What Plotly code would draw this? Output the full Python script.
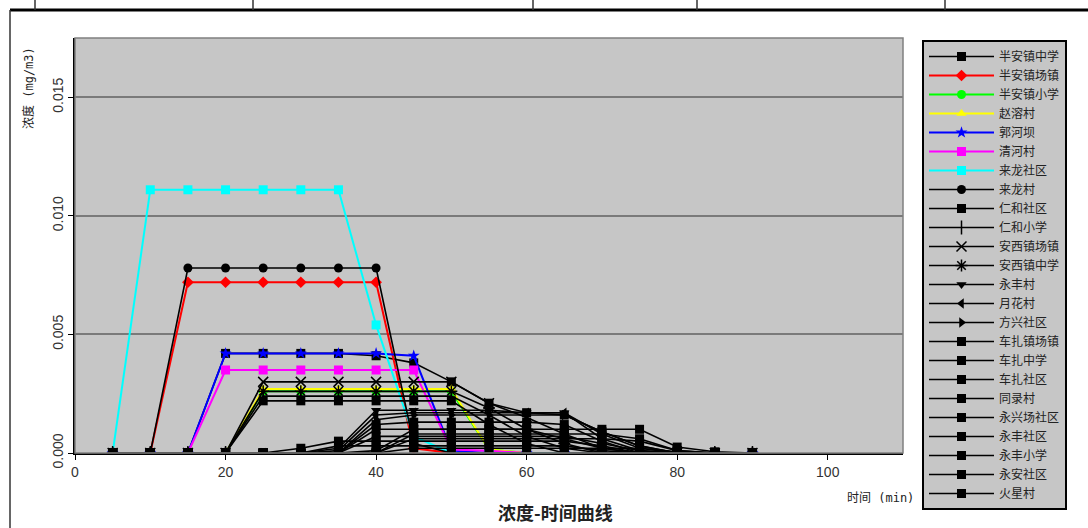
import plotly.graph_objects as go

times = [5, 10, 15, 20, 25, 30, 35, 40, 45, 50, 55, 60, 65, 70, 75, 80, 85, 90]

names = ["半安镇中学", "半安镇场镇", "半安镇小学", "赵溶村", "郭河坝", "清河村", "来龙社区",
         "来龙村", "仁和社区", "仁和小学", "安西镇场镇", "安西镇中学", "永丰村", "月花村",
         "方兴社区", "车扎镇场镇", "车扎中学", "车扎社区", "同录村", "永兴场社区", "永丰社区",
         "永丰小学", "永安社区", "火星村"]

# concentrations in mg/m3 (x 1e-3)
s01 = [0, 0, 0, 4.2, 4.2, 4.2, 4.2, 4.1, 3.8, 3.0, 2.1, 1.7, 1.6, 0.9, 0.3, 0, 0, 0]
s02 = [0, 0, 7.2, 7.2, 7.2, 7.2, 7.2, 7.2, 0.2, 0, 0, 0, 0, 0, 0, 0, 0, 0]
s03 = [0, 0, 0, 0, 2.6, 2.6, 2.6, 2.6, 2.6, 2.6, 0.15, 0, 0, 0, 0, 0, 0, 0]
s04 = [0, 0, 0, 0, 2.7, 2.7, 2.7, 2.7, 2.7, 2.7, 0.15, 0, 0, 0, 0, 0, 0, 0]
s05 = [0, 0, 0, 4.2, 4.2, 4.2, 4.2, 4.2, 4.1, 0.1, 0, 0, 0, 0, 0, 0, 0, 0]
s06 = [0, 0, 0, 3.5, 3.5, 3.5, 3.5, 3.5, 3.5, 0.15, 0.1, 0, 0, 0, 0, 0, 0, 0]
s07 = [0, 11.1, 11.1, 11.1, 11.1, 11.1, 11.1, 5.4, 0.7, 0, 0, 0, 0, 0, 0, 0, 0, 0]
s08 = [0, 0, 7.8, 7.8, 7.8, 7.8, 7.8, 7.8, 0.4, 0, 0, 0, 0, 0, 0, 0, 0, 0]
s09 = [0, 0, 0, 0, 2.2, 2.2, 2.2, 2.2, 2.2, 2.2, 1.2, 0.4, 0, 0, 0, 0, 0, 0]
s10 = [0, 0, 0, 0, 2.4, 2.4, 2.4, 2.4, 2.4, 2.4, 1.6, 0.7, 0.2, 0, 0, 0, 0, 0]
s11 = [0, 0, 0, 0, 3.0, 3.0, 3.0, 3.0, 3.0, 3.0, 2.1, 1.5, 0.8, 0.2, 0, 0, 0, 0]
s12 = [0, 0, 0, 0, 2.6, 2.6, 2.6, 2.6, 2.6, 2.6, 1.9, 1.0, 0.4, 0, 0, 0, 0, 0]
s13 = [0, 0, 0, 0, 0, 0, 0.2, 1.8, 1.8, 1.8, 1.8, 1.7, 1.7, 0.6, 0.1, 0, 0, 0]
s14 = [0, 0, 0, 0, 0, 0, 0.1, 1.6, 1.7, 1.7, 1.7, 1.7, 1.7, 0.8, 0.2, 0, 0, 0]
s15 = [0, 0, 0, 0, 0, 0, 0, 1.4, 1.6, 1.6, 1.6, 1.6, 1.6, 0.9, 0.3, 0, 0, 0]
s16 = [0, 0, 0, 0, 0, 0, 0, 0.1, 1.0, 1.0, 1.0, 1.0, 1.0, 1.0, 1.0, 0.25, 0.05, 0]
s17 = [0, 0, 0, 0, 0, 0, 0, 0, 0.8, 0.8, 0.8, 0.8, 0.8, 0.8, 0.6, 0.1, 0, 0]
s18 = [0, 0, 0, 0, 0, 0.2, 0.5, 0.5, 0.5, 0.5, 0.5, 0.5, 0.5, 0.3, 0, 0, 0, 0]
s19 = [0, 0, 0, 0, 0, 0, 0.3, 0.3, 0.3, 0.3, 0.3, 0.3, 0.3, 0.1, 0, 0, 0, 0]
s20 = [0, 0, 0, 0, 0, 0, 0, 1.0, 1.0, 1.0, 1.0, 1.0, 0.6, 0.2, 0, 0, 0, 0]
s21 = [0, 0, 0, 0, 0, 0, 0, 0, 0.6, 0.6, 0.6, 0.6, 0.6, 0.6, 0.5, 0.1, 0, 0]
s22 = [0, 0, 0, 0, 0, 0, 0, 0, 0.2, 0.2, 0.2, 0.2, 0.2, 0.2, 0.2, 0.05, 0, 0]
s23 = [0, 0, 0, 0, 0, 0, 0, 0.7, 0.7, 0.7, 0.7, 0.7, 0.7, 0.4, 0.1, 0, 0, 0]
s24 = [0, 0, 0, 0, 0, 0, 0, 1.2, 1.3, 1.3, 1.3, 1.3, 1.2, 0.5, 0, 0, 0, 0]

series = [s01, s02, s03, s04, s05, s06, s07, s08, s09, s10, s11, s12,
          s13, s14, s15, s16, s17, s18, s19, s20, s21, s22, s23, s24]

colors = ["#000000", "#FF0000", "#00FF00", "#FFFF00", "#0000FF", "#FF00FF", "#00FFFF"] + ["#000000"] * 17
symbols = ["square", "diamond", "circle", "triangle-up", "star", "square", "square",
           "circle", "square", "line-ns", "x-thin", "asterisk", "triangle-down", "triangle-left",
           "triangle-right"] + ["square"] * 9

fig = go.Figure()
for name, vals, col, sym in zip(names, series, colors, symbols):
    open_sym = sym in ("line-ns", "x-thin", "asterisk")
    fig.add_trace(go.Scatter(
        x=times, y=[v / 1000 for v in vals], name=name, mode="lines+markers",
        line=dict(color=col, width=2 if col != "#000000" else 1.6),
        marker=dict(symbol=sym, size=9 if not open_sym else 10, color=col,
                    line=dict(color=col, width=1.5 if open_sym else 0)),
    ))

def px_x(p):
    return (p - 75) / 828

def px_y(p):
    return (453 - p) / 415

shapes = [
    dict(type="rect", xref="paper", yref="paper", x0=0, x1=1, y0=0, y1=1,
         line=dict(color="#808080", width=1.5), layer="above"),
    dict(type="line", xref="paper", yref="paper", x0=px_x(10), x1=px_x(1090),
         y0=px_y(10), y1=px_y(10), line=dict(color="#000000", width=3)),
    dict(type="line", xref="paper", yref="paper", x0=px_x(10), x1=px_x(10),
         y0=px_y(10), y1=px_y(530), line=dict(color="#333333", width=1.5)),
]
for xp in [35, 253, 533, 697, 945]:
    shapes.append(dict(type="line", xref="paper", yref="paper", x0=px_x(xp), x1=px_x(xp),
                       y0=px_y(-2), y1=px_y(10), line=dict(color="#333333", width=1.5)))

fig.update_layout(
    width=1088, height=528,
    margin=dict(l=75, r=185, t=38, b=75, autoexpand=False),
    paper_bgcolor="#FFFFFF", plot_bgcolor="#C6C6C6",
    font=dict(family="Liberation Sans, Noto Sans CJK SC", color="#222222"),
    showlegend=True,
    legend=dict(x=px_x(922), y=px_y(40), xanchor="left", yanchor="top",
                bgcolor="#C6C6C6", bordercolor="#000000", borderwidth=2,
                font=dict(family="Noto Sans CJK SC", size=12, color="#222222"),
                itemwidth=65, tracegroupgap=0, maxheight=480),
    xaxis=dict(range=[0, 110], tickvals=[0, 20, 40, 60, 80, 100], showgrid=False,
               zeroline=False, showline=True, linecolor="#000000", linewidth=1.5,
               ticks="outside", ticklen=5, tickcolor="#000000",
               tickfont=dict(size=14, family="Liberation Sans", color="#333333")),
    yaxis=dict(range=[0, 0.0175], tickvals=[0, 0.005, 0.010, 0.015], tickformat=".3f",
               tickangle=-90, showgrid=True, gridcolor="#7A7A7A", gridwidth=1.5,
               zeroline=False, showline=True, linecolor="#000000", linewidth=1.5,
               ticks="outside", ticklen=5, tickcolor="#000000",
               tickfont=dict(size=14, family="Liberation Sans", color="#333333")),
    shapes=shapes,
    annotations=[
        dict(text="<b>浓度-时间曲线</b>", xref="paper", yref="paper", x=px_x(555), y=px_y(512),
             xanchor="center", yanchor="middle", showarrow=False,
             font=dict(size=18, family="Noto Sans CJK SC", color="#222222")),
        dict(text="时间 (min)", xref="paper", yref="paper", x=px_x(916), y=px_y(498),
             xanchor="right", yanchor="middle", showarrow=False,
             font=dict(size=12, family="DejaVu Sans Mono, Noto Sans CJK SC", color="#222222")),
        dict(text="浓度 (mg/m3)", xref="paper", yref="paper", x=px_x(28), y=px_y(88),
             xanchor="center", yanchor="middle", textangle=-90, showarrow=False,
             font=dict(size=12, family="DejaVu Sans Mono, Noto Sans CJK SC", color="#222222")),
    ],
)

fig.write_html("out.html", config={"displayModeBar": False},
               post_script="document.body.style.margin='0';document.body.style.overflow='hidden';")
